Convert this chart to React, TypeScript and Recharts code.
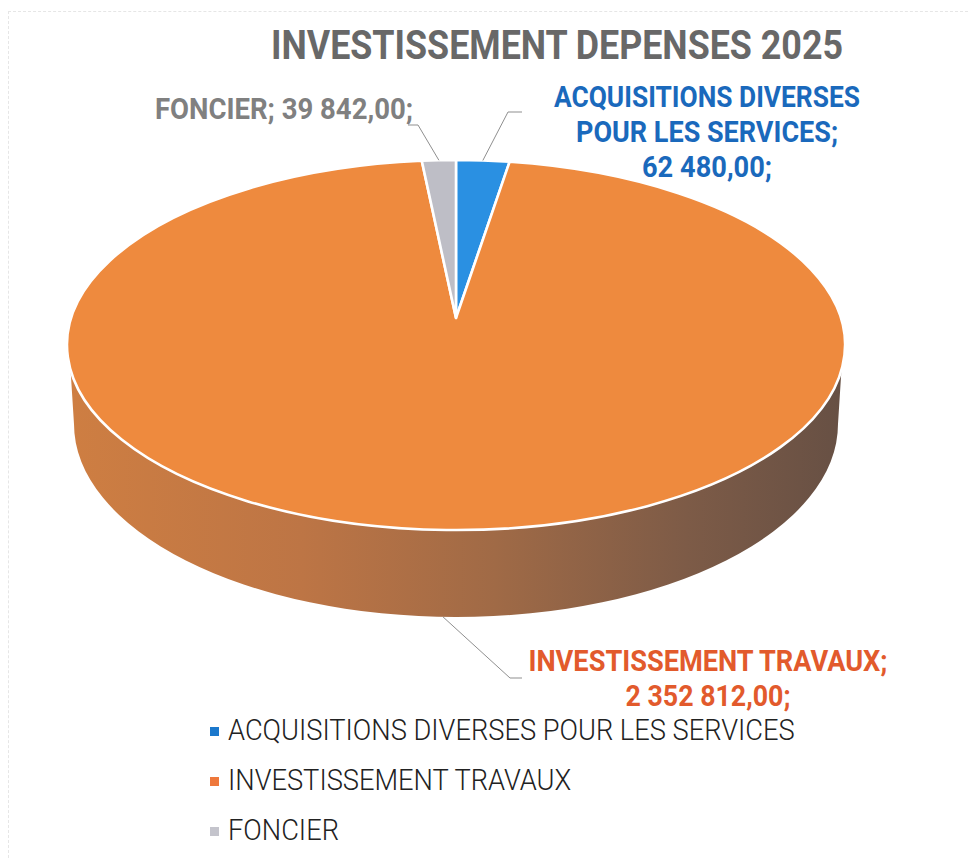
import React from 'react';
import { PieChart, Pie, Legend } from 'recharts';

const categories = ['ACQUISITIONS DIVERSES POUR LES SERVICES', 'INVESTISSEMENT TRAVAUX', 'FONCIER'];
const values = [62480, 2352812, 39842];
const sliceColors = ['#2A90E2', '#EE8A3E', '#BEBEC6'];
const legendColors = ['#1B78CC', '#EE783C', '#C4C4CC'];

const data = categories.map((name, i) => ({ name, value: values[i], fill: sliceColors[i] }));

const FONT = 'Roboto, "Noto Sans", sans-serif';

// top face of the disc, seen in perspective: the apex sits above the ellipse centre
const RX = 389;
const RY = 185;
const APEX_SHIFT = -27;
const TILT = 0.146;
const PROJ_X = 385;
const PROJ_Y = 181;

// side wall
const WALL_TOP = 25;
const WALL_RX = 382;
const WALL_RY = 193;
const WALL_CY = 79;
const WALL_DEPTH = 87;

const project = (cx: number, cy: number, deg: number) => {
  const a = (deg * Math.PI) / 180;
  const w = 1 + TILT * Math.sin(a);
  return {
    x: cx + (PROJ_X * Math.cos(a)) / w,
    y: cy + APEX_SHIFT - (PROJ_Y * Math.sin(a)) / w,
  };
};

const DiscSlice = (props: any) => {
  const { cx, cy, startAngle, endAngle, fill } = props;
  const from = project(cx, cy, startAngle);
  const to = project(cx, cy, endAngle);
  const large = Math.abs(startAngle - endAngle) > 180 ? 1 : 0;
  const top = `M${cx},${cy + APEX_SHIFT}L${from.x},${from.y}A${RX},${RY} 0 ${large} 1 ${to.x},${to.y}Z`;

  const crossesFront = startAngle > -90 && endAngle < -90;
  const edge = RX * Math.sqrt(1 - (WALL_TOP / RY) ** 2);
  const wall =
    `M${cx + edge},${cy + WALL_TOP}L${cx + WALL_RX},${cy + WALL_CY}` +
    `A${WALL_RX},${WALL_RY} 0 0 1 ${cx - WALL_RX},${cy + WALL_CY}` +
    `L${cx - edge},${cy + WALL_TOP}Z`;

  return (
    <g>
      {crossesFront && <path d={wall} fill="url(#wallShade)" />}
      <path d={top} fill={fill} stroke="#fff" strokeWidth={2.6} strokeLinejoin="round" />
    </g>
  );
};

const formatValue = (v: number) => {
  const [whole, dec] = v.toFixed(2).split('.');
  return `${whole.replace(/\B(?=(\d{3})+$)/g, ' ')},${dec};`;
};

const labelStyles = [
  { color: '#1A69BC', anchor: 707, lines: [['ACQUISITIONS DIVERSES', 306, 107], ['POUR LES SERVICES;', 262, 142]], valueRow: [130, 177], elbow: [508, 112, 522] },
  { color: '#E25A2C', anchor: 708, lines: [['INVESTISSEMENT TRAVAUX;', 359, 671]], valueRow: [165, 706], elbow: [510, 678, 522] },
  { color: '#808080', anchor: 284, lines: [], valueRow: [258, 119], elbow: [418, 125, 408] },
];

const SliceLabel = (props: any) => {
  const { cx, cy, midAngle, index, value, name } = props;
  const style = labelStyles[index];
  const p = project(cx, cy, midAngle);
  const startY = midAngle < 0 && midAngle > -180 ? p.y + WALL_DEPTH : p.y;
  const [ex, ey, tx] = style.elbow;
  const text = { fontFamily: FONT, fontWeight: 700, fontSize: 30, fill: style.color, textAnchor: 'middle' } as const;
  const valueText = index === 2 ? `${name}; ${formatValue(value)}` : formatValue(value);
  return (
    <g>
      <polyline points={`${p.x},${startY} ${ex},${ey} ${tx},${ey}`} fill="none" stroke="#8f8f8f" strokeWidth={1} />
      {style.lines.map(([line, width, y]) => (
        <text key={line as string} x={style.anchor} y={y as number} textLength={width as number} lengthAdjust="spacingAndGlyphs" {...text}>
          {line}
        </text>
      ))}
      <text x={style.anchor} y={style.valueRow[1]} textLength={style.valueRow[0]} lengthAdjust="spacingAndGlyphs" {...text}>
        {valueText}
      </text>
    </g>
  );
};

const LegendList = ({ payload }: any) => (
  <div>
    {(payload || []).map((entry: any, i: number) => (
      <div key={entry.value} style={{ position: 'relative', height: 50, whiteSpace: 'nowrap' }}>
        <span style={{ position: 'absolute', left: 0, top: 15, width: 9, height: 9, background: legendColors[i] }} />
        <span
          style={{
            position: 'absolute',
            left: 18,
            top: 0,
            fontFamily: FONT,
            fontWeight: 300,
            fontSize: 29,
            lineHeight: '36px',
            color: '#222',
            transform: 'scaleX(0.94)',
            transformOrigin: 'left',
          }}
        >
          {entry.value}
        </span>
      </div>
    ))}
  </div>
);

export default function App() {
  return (
    <div style={{ position: 'absolute', left: 0, top: 0, width: 968, height: 858, background: '#fff' }}>
      <div style={{ position: 'absolute', left: 8, top: 11, right: 0, bottom: 0, borderTop: '1px dashed #e6e6e6', borderLeft: '1px dashed #e6e6e6' }} />
      <PieChart width={968} height={858} margin={{ top: 0, right: 0, bottom: 0, left: 0 }} style={{ position: 'absolute', left: 0, top: 0 }}>
        <defs>
          <linearGradient id="wallShade" x1="0" y1="0" x2="1" y2="0">
            <stop offset="0%" stopColor="#CE7E42" />
            <stop offset="30%" stopColor="#BD7545" />
            <stop offset="55%" stopColor="#A06A46" />
            <stop offset="80%" stopColor="#7D5B47" />
            <stop offset="100%" stopColor="#675044" />
          </linearGradient>
        </defs>
        <text x={557} y={59} textAnchor="middle" textLength={572} lengthAdjust="spacingAndGlyphs" fontFamily={FONT} fontWeight={700} fontSize={41} fill="#686868">
          INVESTISSEMENT DEPENSES 2025
        </text>
        <Pie
          data={data}
          dataKey="value"
          nameKey="name"
          cx={456}
          cy={345}
          outerRadius={RX}
          startAngle={90}
          endAngle={-270}
          stroke="none"
          shape={DiscSlice}
          label={SliceLabel}
          labelLine={false}
          isAnimationActive={false}
        />
        <Legend content={LegendList} itemSorter={null} layout="vertical" align="center" verticalAlign="middle" wrapperStyle={{ left: 210, top: 712, width: 700 }} />
      </PieChart>
    </div>
  );
}
